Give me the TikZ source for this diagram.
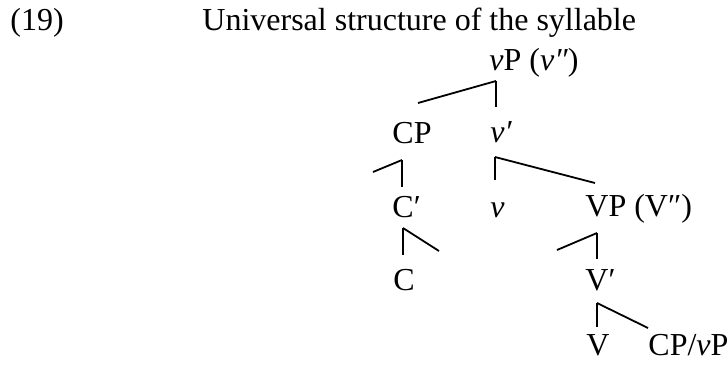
\documentclass[tikz,border=0pt]{standalone}
\usepackage{fontspec}
\setmainfont{Liberation Serif}

\begin{document}
\begin{tikzpicture}[
  x=0.5pt, y=-0.5pt,
  lbl/.style={anchor=base west, inner sep=0pt, font=\fontsize{16}{19}\selectfont},
  br/.style={line width=0.9pt},
]
  \useasboundingbox (0,0) rectangle (727,364);

  \node[lbl] (num) at (10,31)  {(19)};
  \node[lbl] (ttl) at (202,31) {Universal structure of the syllable};

  % tree labels
  \node[lbl] (vP)   at (489,70)  {\textit{v}P (\textit{v″})};
  \node[lbl] (CP)   at (392,143) {CP};
  \node[lbl] (vbar) at (490,142) {\textit{v′}};
  \node[lbl] (Cbar) at (392,217) {C′};
  \node[lbl] (v)    at (490,217) {\textit{v}};
  \node[lbl] (VP)   at (585,216) {VP (V″)};
  \node[lbl] (C)    at (393,290) {C};
  \node[lbl] (Vbar) at (585,290) {V′};
  \node[lbl] (V)    at (586,355) {V};
  \node[lbl] (CPvP) at (648,355) {CP/\textit{v}P};

  % branch points under the mothers
  \coordinate (vP-j)   at ([shift={(7,11)}]vP.base west);
  \coordinate (CP-j)   at ([shift={(10,17)}]CP.base west);
  \coordinate (vbar-j) at ([shift={(5,15)}]vbar.base west);
  \coordinate (Cbar-j) at ([shift={(11,11)}]Cbar.base west);
  \coordinate (VP-j)   at ([shift={(12,17)}]VP.base west);
  \coordinate (Vbar-j) at ([shift={(12,13)}]Vbar.base west);

  % branch ends above the daughters
  \coordinate (vbar-t) at ([shift={(6,-35)}]vbar.base west);
  \coordinate (CP-t)   at ([shift={(26,-40)}]CP.base west);
  \coordinate (Cbar-t) at ([shift={(10,-30)}]Cbar.base west);
  \coordinate (v-t)    at ([shift={(5,-37)}]v.base west);
  \coordinate (VP-t)   at ([shift={(10,-33)}]VP.base west);
  \coordinate (C-t)    at ([shift={(10,-35)}]C.base west);
  \coordinate (Vbar-t) at ([shift={(12,-31)}]Vbar.base west);
  \coordinate (V-t)    at ([shift={(11,-28)}]V.base west);
  \coordinate (CPvP-t) at ([shift={(0,-27)}]CPvP.base west);

  % empty branches
  \coordinate (spec1) at ([shift={(-29,12)}]CP-j);
  \coordinate (comp1) at ([shift={(36,23)}]Cbar-j);
  \coordinate (spec2) at ([shift={(-40,17)}]VP-j);

  \foreach \m/\d in {vP-j/CP-t, vP-j/vbar-t, CP-j/spec1, CP-j/Cbar-t,
                     vbar-j/v-t, vbar-j/VP-t, Cbar-j/C-t, Cbar-j/comp1,
                     VP-j/spec2, VP-j/Vbar-t, Vbar-j/V-t, Vbar-j/CPvP-t}
    \draw[br] (\m) -- (\d);

\end{tikzpicture}
\end{document}
